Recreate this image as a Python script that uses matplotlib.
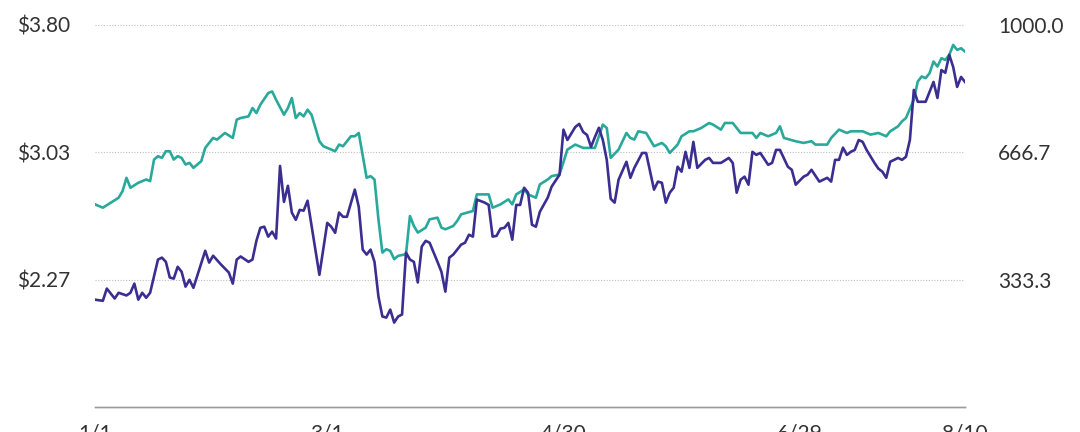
import matplotlib
matplotlib.use('Agg')
import matplotlib.pyplot as plt
import pandas as pd

plt.rcParams['font.family'] = ['Lato', 'DejaVu Sans']

start = pd.Timestamp('2021-01-01')

# teal series (left axis, $), day offsets from 1/1
teal_days = [0, 2, 4, 6, 7, 8, 9, 11, 13, 14,
             15, 16, 17, 18, 19, 20, 21, 22, 23, 24,
             25, 27, 28, 30, 31, 32, 33, 35, 36, 37,
             39, 40, 41, 42, 44, 45, 46, 48, 49, 50,
             51, 52, 53, 54, 55, 57, 58, 60, 61, 62,
             63, 65, 66, 67, 69, 70, 71, 72, 73, 74,
             75, 76, 77, 79, 80, 81, 82, 84, 85, 87,
             88, 89, 91, 92, 93, 96, 97, 98, 100, 101,
             103, 105, 106, 107, 109, 110, 112, 113, 115, 116,
             118, 120, 122, 124, 126, 127, 129, 130, 131, 133,
             135, 136, 137, 138, 140, 142, 144, 145, 146, 148,
             149, 151, 152, 154, 156, 157, 159, 160, 162, 163,
             164, 167, 168, 169, 171, 173, 174, 175, 178, 180,
             182, 183, 186, 187, 189, 191, 192, 195, 197, 199,
             201, 202, 204, 205, 206, 208, 209, 210, 211, 212,
             213, 214, 215, 216, 217, 218, 219, 220, 221]
teal_price = [2.72, 2.70, 2.73, 2.76, 2.80, 2.88, 2.82, 2.85, 2.87, 2.86,
              2.99, 3.01, 3.00, 3.04, 3.04, 2.99, 3.01, 3.00, 2.96, 2.97,
              2.94, 2.98, 3.06, 3.12, 3.11, 3.13, 3.15, 3.12, 3.23, 3.24,
              3.25, 3.30, 3.27, 3.32, 3.39, 3.40, 3.35, 3.26, 3.30, 3.36,
              3.24, 3.27, 3.25, 3.29, 3.26, 3.10, 3.07, 3.05, 3.04, 3.08,
              3.07, 3.13, 3.13, 3.15, 2.88, 2.89, 2.87, 2.63, 2.43, 2.45,
              2.44, 2.39, 2.41, 2.42, 2.65, 2.59, 2.55, 2.58, 2.63, 2.64,
              2.58, 2.57, 2.59, 2.62, 2.66, 2.68, 2.78, 2.78, 2.78, 2.70,
              2.72, 2.75, 2.72, 2.78, 2.81, 2.78, 2.76, 2.84, 2.87, 2.89,
              2.90, 3.05, 3.08, 3.06, 3.06, 3.06, 3.20, 3.18, 3.00, 3.05,
              3.15, 3.12, 3.11, 3.16, 3.15, 3.07, 3.09, 3.07, 3.03, 3.08,
              3.13, 3.16, 3.16, 3.18, 3.21, 3.20, 3.17, 3.21, 3.21, 3.18,
              3.15, 3.15, 3.12, 3.15, 3.13, 3.15, 3.19, 3.12, 3.10, 3.09,
              3.10, 3.08, 3.08, 3.12, 3.17, 3.15, 3.16, 3.16, 3.14, 3.15,
              3.13, 3.16, 3.19, 3.22, 3.24, 3.35, 3.46, 3.49, 3.48, 3.51,
              3.58, 3.55, 3.60, 3.59, 3.62, 3.68, 3.65, 3.66, 3.64]

# purple series (right axis)
purple_days = [0, 2, 3, 5, 6, 8, 9, 10, 11, 12,
               13, 14, 16, 17, 18, 19, 20, 21, 22, 23,
               24, 25, 28, 29, 30, 32, 34, 35, 36, 37,
               39, 40, 41, 42, 43, 44, 45, 46, 47, 48,
               49, 50, 51, 52, 53, 54, 57, 59, 60, 61,
               62, 63, 64, 66, 67, 68, 69, 70, 71, 72,
               73, 74, 75, 76, 77, 78, 79, 80, 81, 82,
               83, 84, 85, 87, 88, 89, 90, 91, 92, 93,
               94, 95, 96, 97, 99, 100, 101, 102, 103, 104,
               105, 106, 107, 108, 109, 110, 111, 112, 113, 115,
               116, 118, 119, 120, 122, 123, 124, 125, 126, 127,
               128, 129, 130, 131, 132, 133, 135, 136, 137, 139,
               140, 142, 143, 144, 145, 146, 147, 148, 149, 150,
               151, 152, 153, 155, 156, 157, 159, 161, 162, 163,
               164, 165, 166, 167, 168, 169, 171, 172, 173, 174,
               176, 177, 178, 180, 181, 182, 184, 186, 187, 188,
               189, 190, 191, 192, 193, 194, 195, 196, 198, 199,
               200, 201, 202, 204, 205, 206, 207, 208, 209, 211,
               213, 214, 215, 216, 217, 218, 219, 220, 221]
purple_vals = [281, 278, 310, 284, 299, 292, 299, 323, 281, 299,
               286, 299, 386, 391, 380, 339, 336, 367, 354, 315,
               333, 312, 409, 378, 396, 373, 352, 323, 386, 394,
               380, 386, 435, 469, 472, 446, 459, 441, 631, 537,
               579, 509, 490, 516, 514, 540, 346, 482, 472, 456,
               509, 498, 498, 569, 524, 412, 399, 412, 380, 289,
               237, 234, 255, 221, 237, 242, 404, 386, 380, 326,
               420, 435, 430, 380, 354, 302, 391, 399, 412, 425,
               430, 451, 446, 543, 535, 529, 446, 448, 467, 469,
               482, 438, 529, 529, 574, 561, 477, 472, 511, 548,
               577, 608, 726, 699, 733, 741, 720, 712, 681, 707,
               731, 699, 647, 545, 535, 595, 642, 600, 626, 665,
               665, 569, 590, 587, 535, 561, 574, 629, 616, 668,
               626, 694, 626, 647, 652, 639, 639, 652, 639, 561,
               595, 603, 582, 668, 660, 665, 634, 639, 673, 673,
               629, 621, 582, 603, 608, 621, 590, 600, 590, 647,
               647, 679, 660, 668, 673, 699, 694, 673, 639, 624,
               616, 600, 642, 652, 647, 655, 699, 830, 799, 799,
               851, 809, 882, 875, 922, 890, 838, 864, 851]

left_ticks = [2.2667, 3.0333, 3.80]
right_ticks = [333.33, 666.67, 1000.0]
tick_days = [0, 59, 119, 179, 221]
tick_labels = ['1/1', '3/1', '4/30', '6/29', '8/10']

teal_dates = start + pd.to_timedelta(teal_days, unit='D')
purple_dates = start + pd.to_timedelta(purple_days, unit='D')
tick_dates = start + pd.to_timedelta(tick_days, unit='D')

fig = plt.figure(figsize=(10.8, 4.32), dpi=100)
ax1 = fig.add_axes([95 / 1080, 1 - 407 / 432, 870 / 1080, 382 / 432])
ax2 = ax1.twinx()

ax1.plot(teal_dates, teal_price, color='#2aa99b', lw=1.9, solid_joinstyle='round')
ax2.plot(purple_dates, purple_vals, color='#3b2e91', lw=1.9, solid_joinstyle='round')

ax1.set_xlim(teal_dates[0], teal_dates[-1])
ax1.set_ylim(1.50, 3.80)
ax2.set_ylim(0, 1000)

ax1.set_yticks(left_ticks)
ax1.set_yticklabels([f'${v:.2f}' for v in left_ticks])
ax2.set_yticks(right_ticks)
ax2.set_yticklabels([f'{v:.1f}' for v in right_ticks])
ax1.set_xticks(tick_dates)
ax1.set_xticklabels(tick_labels)

ax1.grid(axis='y', linestyle=(0, (1, 1.5)), color='#bdbdbd', lw=0.8)
ax1.set_axisbelow(True)

for ax in (ax1, ax2):
    for s in ('top', 'left', 'right'):
        ax.spines[s].set_visible(False)
    ax.spines['bottom'].set_color('#9a9a9a')
    ax.spines['bottom'].set_linewidth(1.0)

ax1.tick_params(axis='y', length=0, pad=18, labelsize=15, labelcolor='#333333')
ax2.tick_params(axis='y', length=0, pad=24, labelsize=15, labelcolor='#333333')
ax1.tick_params(axis='x', length=0, pad=12, labelsize=15, labelcolor='#333333')

fig.savefig('out.png', dpi=100)
plt.close(fig)
